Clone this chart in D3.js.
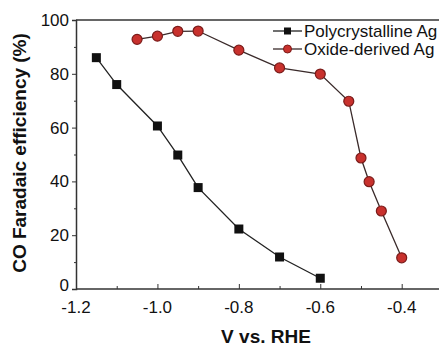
<!DOCTYPE html>
<html>
<head>
<meta charset="utf-8">
<script src="https://cdn.jsdelivr.net/npm/d3@7"></script>
<style>
  body { margin: 0; background: #fff; }
  text { font-family: Arial, "Liberation Sans", sans-serif; fill: #111; }
</style>
</head>
<body>
<div id="chart"></div>
<script>
// data
var polyV   = [-1.15, -1.1, -1.0, -0.95, -0.9, -0.8, -0.7, -0.6];
var polyFE  = [86, 76, 60.6, 49.8, 37.7, 22.3, 11.9, 4];
var oxideV  = [-1.05, -1.0, -0.95, -0.9, -0.8, -0.7, -0.6, -0.53, -0.5, -0.48, -0.45, -0.4];
var oxideFE = [92.8, 94, 95.8, 95.9, 88.8, 82.2, 79.9, 69.8, 48.7, 39.9, 29, 11.6];
var xTicks  = [-1.2, -1.0, -0.8, -0.6, -0.4];
var xMinor  = [-1.1, -0.9, -0.7, -0.5];
var yTicks  = [0, 20, 40, 60, 80, 100];
var yMinor  = [10, 30, 50, 70, 90];
var seriesNames = ["Polycrystalline Ag", "Oxide-derived Ag"];

var W = 439, H = 346;
var margin = {left: 76, top: 20, right: 0, bottom: 57};

var svg = d3.select("#chart").append("svg")
    .attr("width", W).attr("height", H);

var x = d3.scaleLinear().domain([-1.2, -0.4]).range([margin.left, 401.7]);
var y = d3.scaleLinear().domain([0, 100]).range([H - margin.bottom, margin.top]);

// frame: top line runs off the right edge
svg.append("line")
    .attr("x1", margin.left).attr("x2", W)
    .attr("y1", y(100)).attr("y2", y(100))
    .attr("stroke", "#333").attr("stroke-width", 1.5);

// X axis (ticks inward)
var xAxis = svg.append("g")
    .attr("transform", "translate(0," + y(0) + ")")
    .call(d3.axisTop(x).tickValues(xTicks).tickSize(5).tickFormat(""));
xAxis.select(".domain").remove();
svg.append("line")
    .attr("x1", margin.left).attr("x2", W)
    .attr("y1", y(0)).attr("y2", y(0))
    .attr("stroke", "#333").attr("stroke-width", 1.5);
svg.append("g")
    .attr("transform", "translate(0," + y(0) + ")")
    .call(d3.axisTop(x).tickValues(xMinor).tickSize(3).tickFormat(""))
    .select(".domain").remove();
svg.selectAll(".xlab").data(xTicks).enter().append("text")
    .attr("x", function(d) { return x(d); })
    .attr("y", y(0) + 23.5)
    .attr("text-anchor", "middle")
    .style("font-size", "17px")
    .text(function(d) { return d.toFixed(1); });

// Y axis (ticks outward)
var yAxis = svg.append("g")
    .attr("transform", "translate(" + margin.left + ",0)")
    .call(d3.axisLeft(y).tickValues(yTicks).tickSize(4).tickPadding(3));
yAxis.select(".domain").attr("stroke", "#333").attr("stroke-width", 1.5);
yAxis.selectAll("text").style("font-size", "17px").attr("fill", "#111");
// the zero label sits a little high so it clears -1.2
yAxis.selectAll(".tick").filter(function(d) { return d === 0; })
    .select("text").attr("dy", "0.1em");
svg.append("g")
    .attr("transform", "translate(" + margin.left + ",0)")
    .call(d3.axisLeft(y).tickValues(yMinor).tickSize(2).tickFormat(""))
    .select(".domain").remove();
svg.selectAll(".tick line").attr("stroke", "#333");

// axis titles
svg.append("text")
    .attr("transform", "translate(26,153) rotate(-90)")
    .attr("text-anchor", "middle")
    .style("font-size", "19px").style("font-weight", "bold")
    .text("CO Faradaic efficiency (%)");
svg.append("text")
    .attr("x", 266).attr("y", 343)
    .attr("text-anchor", "middle")
    .style("font-size", "19px").style("font-weight", "bold")
    .text("V vs. RHE");

var line = d3.line()
    .x(function(d) { return x(d[0]); })
    .y(function(d) { return y(d[1]); });

var poly = polyV.map(function(v, i) { return [v, polyFE[i]]; });
var oxide = oxideV.map(function(v, i) { return [v, oxideFE[i]]; });

svg.append("path").datum(poly).attr("d", line)
    .attr("fill", "none").attr("stroke", "#222").attr("stroke-width", 1.3);
svg.append("path").datum(oxide).attr("d", line)
    .attr("fill", "none").attr("stroke", "#3a2a2a").attr("stroke-width", 1.3);

svg.selectAll(".sq").data(poly).enter().append("rect")
    .attr("x", function(d) { return x(d[0]) - 4.5; })
    .attr("y", function(d) { return y(d[1]) - 4.5; })
    .attr("width", 9).attr("height", 9)
    .attr("fill", "#111");
svg.selectAll(".ci").data(oxide).enter().append("circle")
    .attr("cx", function(d) { return x(d[0]); })
    .attr("cy", function(d) { return y(d[1]); })
    .attr("r", 5)
    .attr("fill", "#c8312d").attr("stroke", "#7a1c1a").attr("stroke-width", 1.2);

// legend
var leg = svg.append("g");
seriesNames.forEach(function(name, i) {
    var ly = 31 + i * 18;
    leg.append("line").attr("x1", 273).attr("x2", 302).attr("y1", ly).attr("y2", ly)
        .attr("stroke", i === 0 ? "#222" : "#3a2a2a").attr("stroke-width", 1.3);
    if (i === 0) {
        leg.append("rect").attr("x", 284).attr("y", ly - 3.5).attr("width", 7).attr("height", 7).attr("fill", "#111");
    } else {
        leg.append("circle").attr("cx", 287.5).attr("cy", ly).attr("r", 4)
            .attr("fill", "#c8312d").attr("stroke", "#7a1c1a");
    }
    leg.append("text").attr("x", 304).attr("y", ly + 6)
        .style("font-size", "17px").text(name);
});
</script>
</body>
</html>
